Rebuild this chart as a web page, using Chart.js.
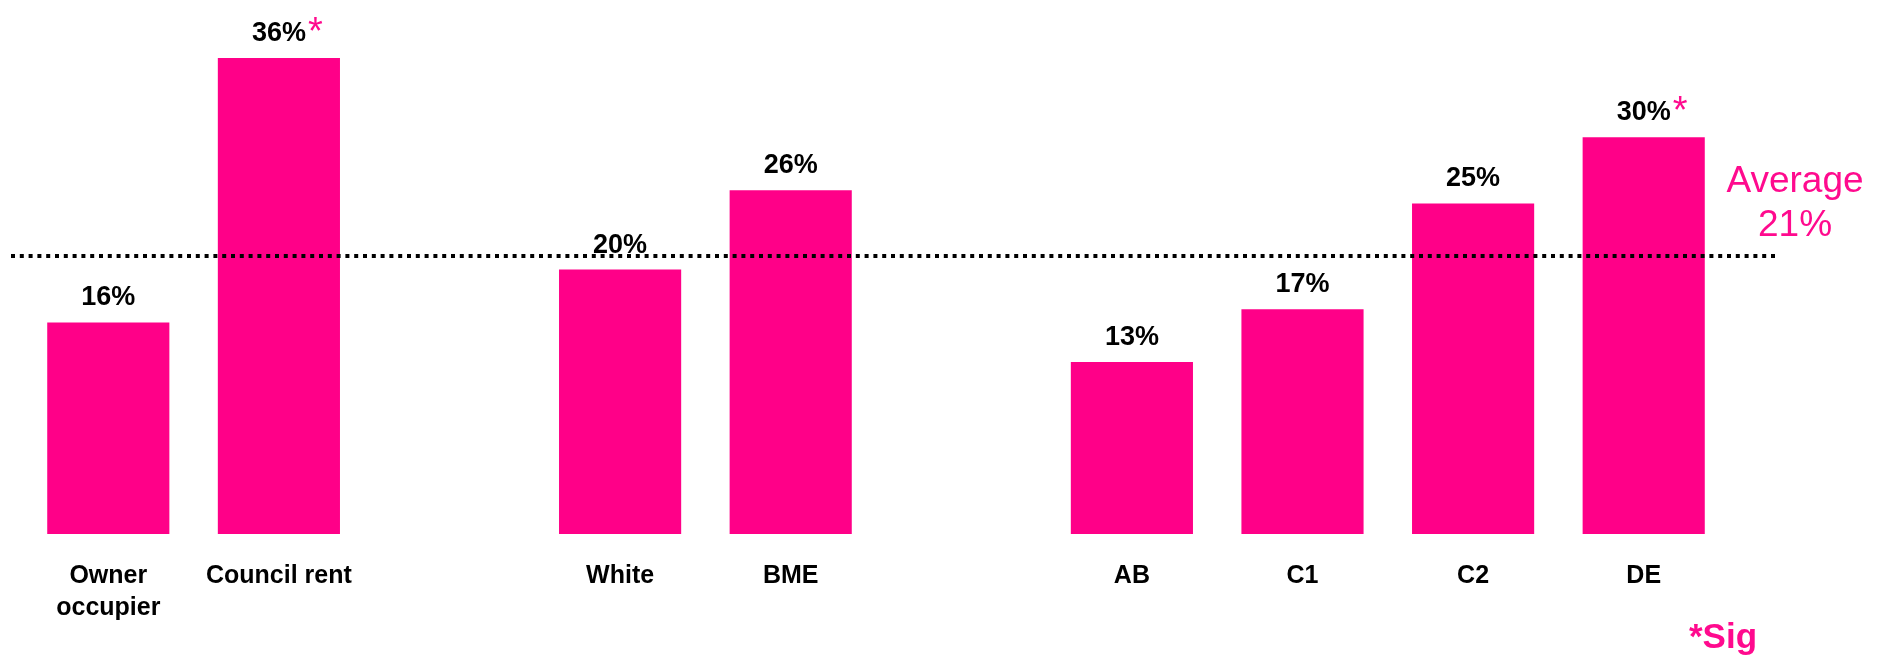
<!DOCTYPE html>
<html>
<head>
<meta charset="utf-8">
<style>
  html, body { margin: 0; padding: 0; background: #ffffff; }
  #wrap { width: 1888px; height: 656px; }
</style>
<script src="https://cdn.jsdelivr.net/npm/chart.js@4/dist/chart.umd.min.js"></script>
</head>
<body>
<div id="wrap"><canvas id="c" width="1888" height="656"></canvas></div>
<script>
// ---- data ----
const categories = [
  ['Owner', 'occupier'], 'Council rent', '',
  'White', 'BME', '',
  'AB', 'C1', 'C2', 'DE'
];
const values = [16, 36, null, 20, 26, null, 13, 17, 25, 30];
const significant = [false, true, false, false, false, false, false, false, false, true];
const averageValue = 21;
const averageLabel = ['Average', '21%'];
const sigNote = '*Sig';

const PINK = '#FF0088';
const PINK_TEXT = '#FF0A8E';
const FONT = '"Liberation Sans", Arial, Helvetica, sans-serif';

const overlay = {
  id: 'overlay',
  afterDatasetsDraw(chart) {
    const ctx = chart.ctx;
    const area = chart.chartArea;
    const y = chart.scales.y;
    const meta = chart.getDatasetMeta(0);

    // dotted average line
    const ay = Math.round(y.getPixelForValue(averageValue));
    ctx.save();
    ctx.strokeStyle = '#000000';
    ctx.lineWidth = 4;
    ctx.setLineDash([4, 4.8]);
    ctx.beginPath();
    ctx.moveTo(area.left - 12, ay);
    ctx.lineTo(area.right + 49, ay);
    ctx.stroke();
    ctx.restore();

    // value labels
    ctx.save();
    meta.data.forEach((bar, i) => {
      const v = values[i];
      if (v === null || v === undefined) return;
      const txt = v + '%';
      const base = bar.y - 17;
      ctx.font = 'bold 27px ' + FONT;
      ctx.fillStyle = '#000000';
      ctx.textAlign = 'center';
      ctx.textBaseline = 'alphabetic';
      ctx.fillText(txt, bar.x, base);
      if (significant[i]) {
        const w = ctx.measureText(txt).width;
        ctx.font = '38px ' + FONT;
        ctx.fillStyle = PINK_TEXT;
        ctx.textAlign = 'left';
        ctx.fillText('*', bar.x + w / 2 + 2, base + 3);
      }
    });
    ctx.restore();

    // average annotation
    ctx.save();
    ctx.font = '37px ' + FONT;
    ctx.fillStyle = PINK_TEXT;
    ctx.textAlign = 'center';
    ctx.textBaseline = 'alphabetic';
    ctx.fillText(averageLabel[0], area.right + 66, ay - 64);
    ctx.fillText(averageLabel[1], area.right + 66, ay - 20);
    ctx.restore();

    // significance note
    ctx.save();
    ctx.font = 'bold 35px ' + FONT;
    ctx.fillStyle = PINK_TEXT;
    ctx.textAlign = 'center';
    ctx.textBaseline = 'alphabetic';
    ctx.fillText(sigNote, area.right - 6, 648);
    ctx.restore();
  }
};

new Chart(document.getElementById('c'), {
  type: 'bar',
  data: {
    labels: categories,
    datasets: [{
      data: values,
      backgroundColor: PINK,
      borderWidth: 0,
      barPercentage: 0.716,
      categoryPercentage: 1.0
    }]
  },
  options: {
    responsive: false,
    animation: false,
    devicePixelRatio: 1,
    layout: { padding: { left: 23, right: 159, top: 5, bottom: 14 } },
    plugins: {
      legend: { display: false },
      tooltip: { enabled: false },
      title: { display: false }
    },
    scales: {
      x: {
        grid: { display: false },
        border: { display: false },
        ticks: {
          color: '#000000',
          font: { family: FONT, size: 25, weight: 'bold', lineHeight: 1.28 },
          padding: 18,
          autoSkip: false,
          maxRotation: 0,
          minRotation: 0
        }
      },
      y: {
        display: false,
        min: 0,
        max: 40
      }
    }
  },
  plugins: [overlay]
});
</script>
</body>
</html>
